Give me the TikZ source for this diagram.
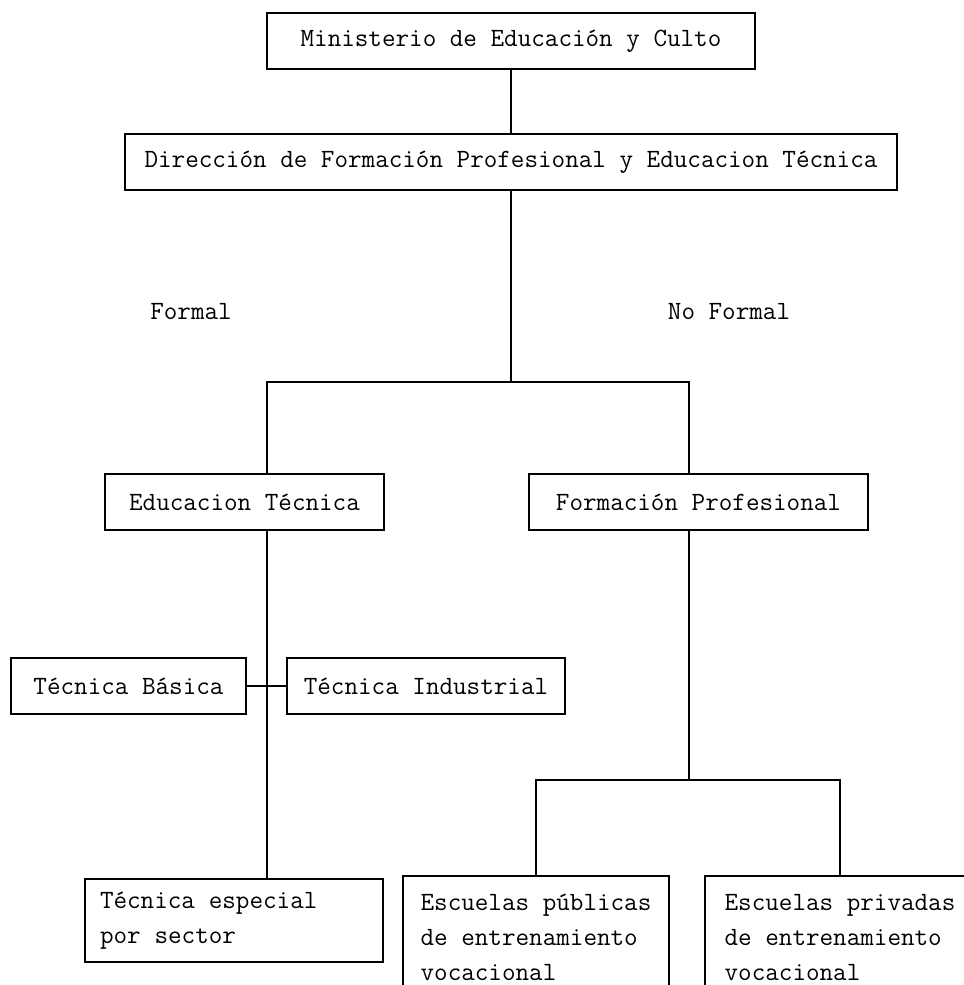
\documentclass[tikz,border=0pt]{standalone}
\usetikzlibrary{positioning}

\begin{document}
\begin{tikzpicture}[
  x=0.02cm, y=-0.02cm,
  box/.style={draw, line width=1.1pt, inner sep=0pt, font=\fontsize{15}{20}\ttfamily, align=center, minimum height=1.12cm},
  tall/.style={box, align=left},
  lbl/.style={font=\fontsize{15}{20}\ttfamily, inner sep=0pt},
  link/.style={line width=1.1pt},
]
\useasboundingbox (0,0) rectangle (964,985);

% top of the chart
\node[box, minimum width=9.76cm] (min) at (511,41) {Ministerio de Educación y Culto};
\node[box, minimum width=15.44cm] (dir) at (511,162) {Dirección de Formación Profesional y Educacion Técnica};
\node[lbl] (formal) at (191,312) {Formal};
\node[lbl] (noformal) at (729,312) {No Formal};

% second level
\node[box, minimum width=5.58cm] (edtec) at (244.5,502) {Educacion Técnica};
\node[box, minimum width=6.78cm] (fprof) at (698.5,502) {Formación Profesional};

% branches
\node[box, minimum width=4.7cm] (basica) at (128.5,686) {Técnica Básica};
\node[box, minimum width=5.56cm] (indus) at (426,686) {Técnica Industrial};
\node[tall, text width=5.36cm, inner xsep=0.3cm, minimum height=1.66cm] (especial) at (234,920.5) {\spaceskip=0.525em\relax Técnica especial\\por sector};
\node[tall, minimum width=5.32cm, minimum height=2.46cm, anchor=north] (publicas) at (536,875) {Escuelas públicas\\de entrenamiento\\vocacional};
\node[tall, minimum width=5.4cm, minimum height=2.46cm, anchor=north] (privadas) at (840,875) {Escuelas privadas\\de entrenamiento\\vocacional};

\coordinate (split) at (511,382);
\coordinate (barL) at (267,382);
\coordinate (barR) at (689,382);
\coordinate (fsplit) at (689,780);

\draw[link] (min) -- (dir);
\draw[link] (dir.south) -- (split);
\draw[link] (barL |- edtec.north) -- (barL) -- (barR) -- (barR |- fprof.north);
\draw[link] (barL |- edtec.south) -- (barL |- especial.north);
\draw[link] (basica) -- (indus);
\draw[link] (fprof.south -| fsplit) -- (fsplit);
\draw[link] (publicas.north) -- (publicas.north |- fsplit) -- (privadas.north |- fsplit) -- (privadas.north);
\end{tikzpicture}
\end{document}
